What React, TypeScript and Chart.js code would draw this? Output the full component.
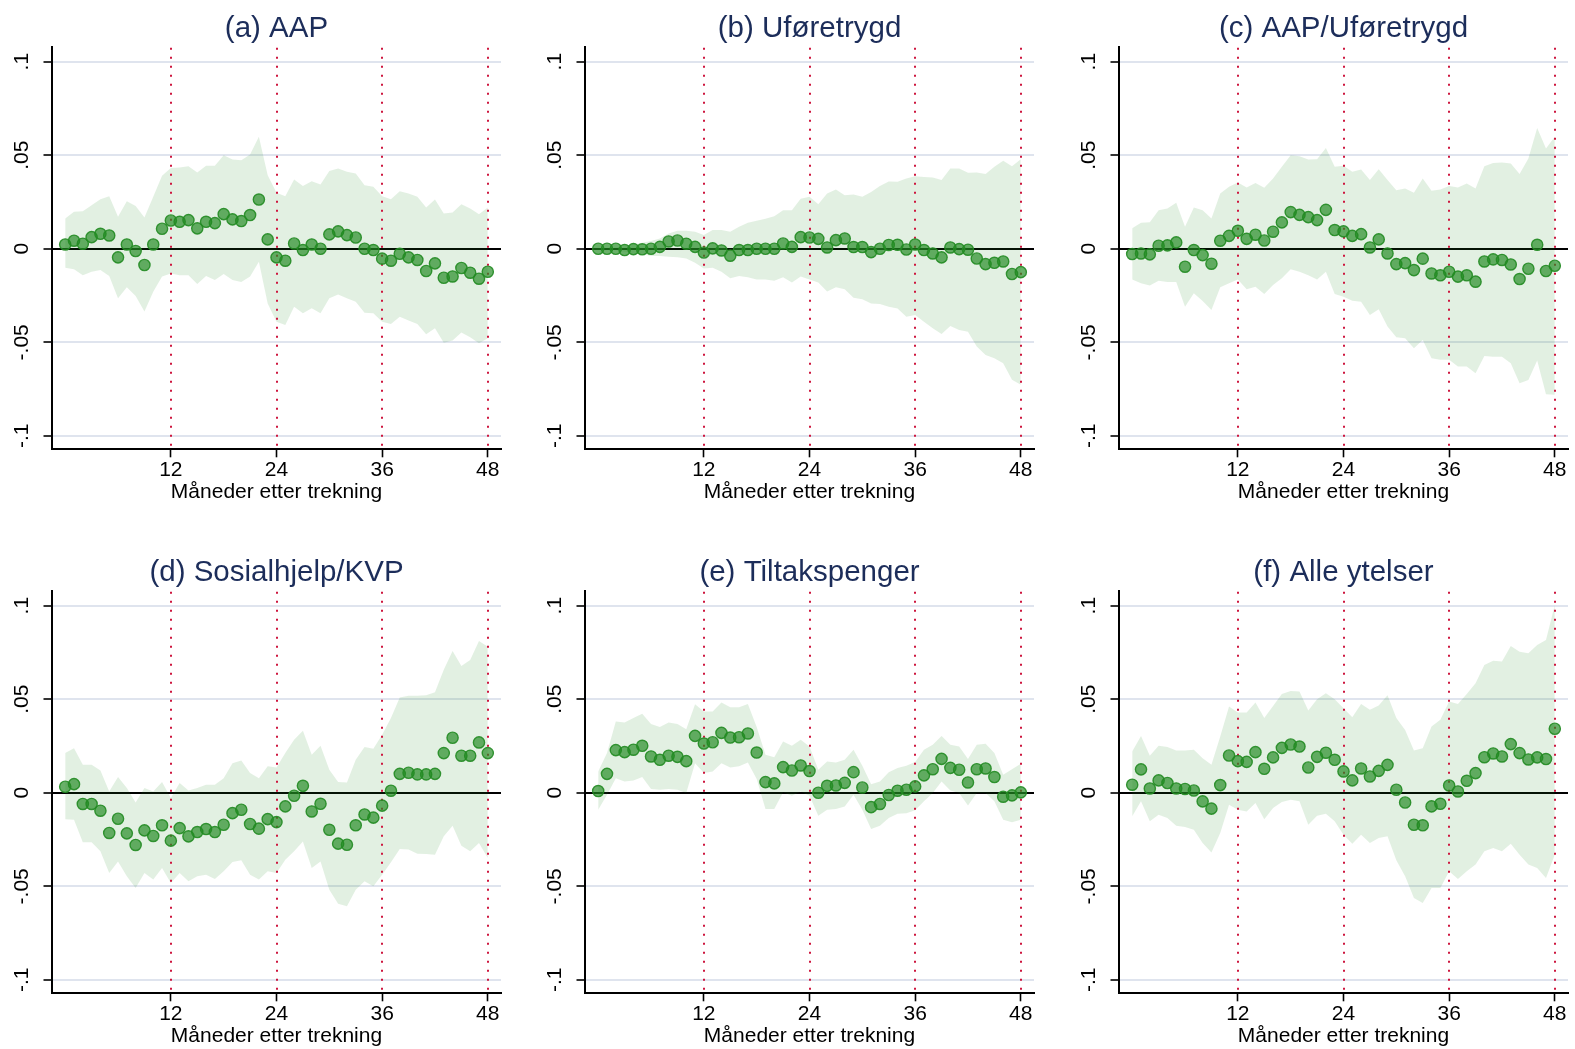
import React, { useEffect, useRef } from "react";
import { Chart, registerables } from "chart.js";

Chart.register(...registerables);

// ---------- data ----------
const months = [
  0, 1, 2, 3, 4, 5, 6, 7, 8, 9, 10, 11, 12, 13, 14, 15, 16, 17, 18, 19, 20, 21, 22, 23, 24,
  25, 26, 27, 28, 29, 30, 31, 32, 33, 34, 35, 36, 37, 38, 39, 40, 41, 42, 43, 44, 45, 46, 47, 48,
];
const xTickValues = [12, 24, 36, 48];
const xTickLabels = ["12", "24", "36", "48"];
const yTickValues = [-0.1, -0.05, 0, 0.05, 0.1];
const yTickLabels = ["-.1", "-.05", "0", ".05", ".1"];
const markerMonths = [12, 24, 36, 48];
const xAxisTitle = "Måneder etter trekning";

const panelTitles = [
  "(a) AAP",
  "(b) Uføretrygd",
  "(c) AAP/Uføretrygd",
  "(d) Sosialhjelp/KVP",
  "(e) Tiltakspenger",
  "(f) Alle ytelser",
];

// (a) AAP
const aapEst = [0.0023, 0.0043, 0.0027, 0.0062, 0.008, 0.0071, -0.0046, 0.0023, -0.0012, -0.0087, 0.0023, 0.0107, 0.0151, 0.0144, 0.0153, 0.0109, 0.0144, 0.0137, 0.0185, 0.0157, 0.0148, 0.018, 0.0263, 0.005, -0.0046, -0.0064, 0.0028, -0.0007, 0.0023, 0.0, 0.0077, 0.0093, 0.0073, 0.006, 0.0, -0.0007, -0.0053, -0.0064, -0.0027, -0.0046, -0.006, -0.0119, -0.0078, -0.0155, -0.0148, -0.0103, -0.0128, -0.016, -0.0123];
const aapHi = [0.0162, 0.0198, 0.0201, 0.0233, 0.0265, 0.0281, 0.0171, 0.0254, 0.0228, 0.0167, 0.0278, 0.039, 0.0432, 0.0434, 0.0441, 0.0407, 0.0443, 0.0443, 0.05, 0.0477, 0.0473, 0.0504, 0.0598, 0.0393, 0.0299, 0.0281, 0.037, 0.0336, 0.0361, 0.0343, 0.0416, 0.0429, 0.0411, 0.0402, 0.034, 0.0331, 0.0281, 0.0265, 0.0308, 0.0295, 0.0278, 0.0221, 0.0263, 0.0189, 0.0194, 0.0238, 0.0215, 0.0185, 0.0221];
const aapLo = [-0.0101, -0.011, -0.0142, -0.0123, -0.0114, -0.0146, -0.0265, -0.0206, -0.0253, -0.0336, -0.023, -0.0149, -0.0132, -0.0141, -0.0141, -0.0189, -0.0146, -0.0167, -0.0135, -0.0167, -0.0178, -0.0149, -0.0069, -0.0292, -0.039, -0.0407, -0.031, -0.0345, -0.0318, -0.0345, -0.0265, -0.0244, -0.0265, -0.0283, -0.0342, -0.0345, -0.039, -0.0402, -0.0363, -0.0384, -0.0402, -0.0457, -0.0425, -0.0502, -0.0491, -0.0448, -0.0473, -0.0505, -0.0479];

// (b) Uføretrygd
const uforEst = [0, 0, 0, -0.0007, -0.0002, -0.0003, 0, 0.001, 0.0039, 0.0044, 0.0027, 0.001, -0.002, 0.0002, -0.0009, -0.0037, -0.0007, -0.0007, 0, 0, 0, 0.0028, 0.001, 0.0062, 0.006, 0.0053, 0.0007, 0.0046, 0.0055, 0.0009, 0.0009, -0.0018, 0, 0.002, 0.0021, -0.0004, 0.0023, -0.0007, -0.0025, -0.0046, 0.0007, -0.0002, -0.0005, -0.0052, -0.0082, -0.0075, -0.0068, -0.0135, -0.0125];
const uforHi = [0.0002, 0.0004, 0.0007, 0.0014, 0.0023, 0.0032, 0.0041, 0.0055, 0.0082, 0.0096, 0.0096, 0.0091, 0.0073, 0.01, 0.01, 0.0091, 0.0117, 0.0139, 0.0149, 0.016, 0.0174, 0.0206, 0.0206, 0.0267, 0.0278, 0.0238, 0.0295, 0.0317, 0.0286, 0.029, 0.0278, 0.0304, 0.0336, 0.0359, 0.0358, 0.0375, 0.0388, 0.0384, 0.0381, 0.0367, 0.0429, 0.0429, 0.0406, 0.0407, 0.0399, 0.0438, 0.047, 0.0441, 0.0479];
const uforLo = [-0.0002, -0.0004, -0.0007, -0.0016, -0.0025, -0.003, -0.0039, -0.0039, -0.0043, -0.0046, -0.0052, -0.0075, -0.0105, -0.0101, -0.0123, -0.0158, -0.0146, -0.0153, -0.0164, -0.0164, -0.0171, -0.0153, -0.0181, -0.0149, -0.0164, -0.0181, -0.0228, -0.0206, -0.0217, -0.0262, -0.027, -0.0292, -0.0295, -0.031, -0.0319, -0.0363, -0.0354, -0.039, -0.0425, -0.0456, -0.0413, -0.0434, -0.0443, -0.0523, -0.0568, -0.0585, -0.0612, -0.07, -0.0727];

// (c) AAP/Uføretrygd
const aapUforEst = [-0.0028, -0.0025, -0.003, 0.0016, 0.0018, 0.0034, -0.0096, -0.0007, -0.0034, -0.008, 0.0043, 0.0069, 0.0096, 0.0053, 0.0075, 0.0044, 0.0091, 0.0141, 0.0196, 0.0181, 0.0169, 0.0153, 0.0208, 0.01, 0.0093, 0.0069, 0.0078, 0.0007, 0.005, -0.0025, -0.0082, -0.0077, -0.0114, -0.0053, -0.0132, -0.0142, -0.0123, -0.0149, -0.0142, -0.0176, -0.0068, -0.0057, -0.006, -0.0084, -0.0162, -0.0107, 0.0021, -0.0119, -0.0091];
const aapUforHi = [0.0109, 0.0139, 0.0141, 0.0206, 0.0215, 0.0246, 0.0117, 0.0221, 0.0206, 0.0162, 0.0295, 0.0331, 0.0354, 0.0327, 0.0352, 0.0326, 0.0375, 0.0438, 0.05, 0.0495, 0.0477, 0.0479, 0.0539, 0.0438, 0.0443, 0.0411, 0.0423, 0.0367, 0.0425, 0.0367, 0.0313, 0.0322, 0.0299, 0.0375, 0.031, 0.0317, 0.0336, 0.0327, 0.0349, 0.0322, 0.0441, 0.0459, 0.0461, 0.0456, 0.0399, 0.0482, 0.0646, 0.0536, 0.0598];
const aapUforLo = [-0.0164, -0.0185, -0.0197, -0.0171, -0.0178, -0.0178, -0.031, -0.0238, -0.0279, -0.0327, -0.0206, -0.0185, -0.0164, -0.0217, -0.0203, -0.0242, -0.0194, -0.0158, -0.011, -0.0123, -0.0141, -0.0164, -0.0123, -0.0242, -0.0256, -0.0278, -0.0283, -0.0354, -0.0324, -0.0416, -0.0473, -0.0479, -0.0532, -0.0488, -0.0585, -0.0594, -0.0594, -0.063, -0.063, -0.0665, -0.0573, -0.0577, -0.0577, -0.0612, -0.0719, -0.0701, -0.0598, -0.0778, -0.0781];

// (d) Sosialhjelp/KVP
const sosEst = [0.0032, 0.0046, -0.006, -0.006, -0.0096, -0.0215, -0.0139, -0.0217, -0.0279, -0.0201, -0.0231, -0.0174, -0.0256, -0.0189, -0.0233, -0.021, -0.0194, -0.021, -0.0171, -0.0109, -0.0091, -0.0167, -0.0192, -0.0141, -0.0157, -0.0073, -0.0016, 0.0037, -0.01, -0.0059, -0.0198, -0.0272, -0.0278, -0.0174, -0.0116, -0.0133, -0.0069, 0.0011, 0.0101, 0.0107, 0.0098, 0.0098, 0.0101, 0.0212, 0.0294, 0.0198, 0.0198, 0.0269, 0.0212];
const sosHi = [0.0212, 0.0238, 0.0149, 0.0149, 0.0119, 0.0007, 0.0084, 0.0025, -0.0052, 0.0025, 0.0007, 0.0057, -0.0028, 0.0052, 0.0012, 0.0025, 0.0043, 0.0043, 0.0078, 0.0158, 0.0173, 0.0105, 0.0078, 0.0141, 0.0135, 0.0212, 0.0283, 0.0331, 0.0203, 0.0251, 0.0123, 0.0057, 0.0055, 0.0176, 0.0244, 0.0235, 0.031, 0.0399, 0.0509, 0.0518, 0.0518, 0.0521, 0.0537, 0.0657, 0.0758, 0.0678, 0.071, 0.0811, 0.0781];
const sosLo = [-0.0141, -0.0144, -0.0265, -0.0265, -0.0313, -0.0429, -0.0367, -0.0447, -0.0509, -0.0429, -0.0464, -0.0402, -0.0482, -0.0429, -0.0473, -0.0447, -0.0438, -0.0461, -0.042, -0.037, -0.0361, -0.0438, -0.0464, -0.042, -0.0429, -0.0358, -0.0313, -0.026, -0.0402, -0.0367, -0.0518, -0.0594, -0.0607, -0.0518, -0.0473, -0.05, -0.0438, -0.0372, -0.0301, -0.0304, -0.0326, -0.0327, -0.0331, -0.0233, -0.0176, -0.0283, -0.0313, -0.0269, -0.0349];

// (e) Tiltakspenger
const tiltEst = [0.0009, 0.0101, 0.0228, 0.0217, 0.023, 0.0251, 0.0194, 0.0176, 0.0198, 0.0192, 0.0169, 0.0304, 0.0263, 0.027, 0.032, 0.0295, 0.0297, 0.0317, 0.0215, 0.0057, 0.005, 0.0137, 0.0119, 0.0146, 0.0116, 0.0, 0.0037, 0.0039, 0.0053, 0.011, 0.0028, -0.0077, -0.006, -0.0012, 0.0011, 0.0016, 0.0034, 0.0093, 0.0126, 0.0181, 0.0133, 0.0123, 0.0055, 0.0126, 0.013, 0.0084, -0.0021, -0.0014, 0.0002];
const tiltHi = [0.0114, 0.0212, 0.0381, 0.0375, 0.0399, 0.0422, 0.0367, 0.0351, 0.0375, 0.0368, 0.034, 0.0473, 0.0434, 0.0434, 0.0482, 0.0457, 0.0457, 0.0475, 0.0351, 0.0203, 0.019, 0.0274, 0.0251, 0.0283, 0.0247, 0.0123, 0.0167, 0.0162, 0.0176, 0.023, 0.0144, 0.0046, 0.006, 0.011, 0.0132, 0.0144, 0.0164, 0.023, 0.0256, 0.0304, 0.0256, 0.0247, 0.018, 0.0256, 0.0262, 0.0212, 0.0096, 0.0126, 0.0155];
const tiltLo = [-0.0091, -0.0011, 0.0078, 0.006, 0.0066, 0.0084, 0.002, 0.0016, 0.002, 0.0016, -0.0002, 0.0158, 0.0105, 0.0114, 0.0158, 0.0135, 0.0141, 0.0162, 0.0073, -0.0087, -0.0087, 0.0002, -0.0016, 0.0007, -0.0016, -0.0123, -0.0091, -0.0087, -0.0073, -0.0011, -0.0091, -0.0194, -0.0176, -0.0135, -0.0112, -0.0109, -0.0094, -0.0046, -0.0002, 0.006, 0.0012, -0.0002, -0.0068, -0.0002, -0.0002, -0.0046, -0.0144, -0.0158, -0.0144];

// (f) Alle ytelser
const alleEst = [0.0043, 0.0125, 0.0023, 0.0066, 0.0052, 0.0023, 0.002, 0.0012, -0.0046, -0.0085, 0.0041, 0.0199, 0.0169, 0.0165, 0.0217, 0.0128, 0.0189, 0.024, 0.0258, 0.0247, 0.0135, 0.0192, 0.0214, 0.0176, 0.0114, 0.0066, 0.013, 0.0087, 0.0117, 0.0149, 0.0016, -0.0052, -0.0171, -0.0174, -0.0073, -0.0059, 0.0039, 0.0007, 0.0064, 0.0105, 0.019, 0.021, 0.0194, 0.026, 0.0212, 0.0178, 0.0189, 0.018, 0.0342];
const alleHi = [0.0221, 0.0304, 0.0198, 0.0251, 0.0244, 0.0226, 0.0226, 0.023, 0.0185, 0.015, 0.0301, 0.0461, 0.0429, 0.0429, 0.0482, 0.0399, 0.0464, 0.0528, 0.0544, 0.0541, 0.044, 0.05, 0.0532, 0.05, 0.0452, 0.0404, 0.0475, 0.0443, 0.0466, 0.0521, 0.0399, 0.0336, 0.0226, 0.0238, 0.0354, 0.039, 0.0488, 0.0475, 0.0528, 0.0585, 0.0683, 0.0706, 0.0701, 0.0785, 0.0754, 0.0746, 0.079, 0.0817, 0.1004];
const alleLo = [-0.0126, -0.0046, -0.0153, -0.0117, -0.0135, -0.0176, -0.0183, -0.0198, -0.0269, -0.0319, -0.0215, -0.0064, -0.0091, -0.01, -0.0055, -0.0141, -0.0082, -0.005, -0.0037, -0.0046, -0.0171, -0.0123, -0.0112, -0.0153, -0.0224, -0.0272, -0.0224, -0.0269, -0.0242, -0.0233, -0.0361, -0.0447, -0.0562, -0.0589, -0.0509, -0.0509, -0.042, -0.0461, -0.042, -0.0384, -0.0313, -0.0295, -0.0313, -0.0272, -0.0331, -0.0384, -0.0402, -0.0456, -0.0331];

// ---------- styling ----------
const FONT = "'Liberation Sans', Arial, Helvetica, sans-serif";
const TITLE_COLOR = "#1c2d5a";
const GRID_COLOR = "#dfe4ee";
const RED = "rgb(205, 22, 62)";
const BAND = "rgba(34, 139, 34, 0.13)";
const DOT_FILL = "rgba(34, 139, 34, 0.68)";
const DOT_EDGE = "rgba(34, 139, 34, 0.9)";

const CANVAS_W = 508;
const CANVAS_H = 505;

const markerLinesPlugin = {
  id: "markerLines",
  afterDatasetDraw(chart: any, args: any) {
    if (args.index !== 2) return;
    const { ctx, chartArea } = chart;
    const xs = chart.scales.x;
    ctx.save();
    ctx.strokeStyle = RED;
    ctx.lineWidth = 2;
    ctx.lineCap = "butt";
    ctx.setLineDash([2, 7]);
    markerMonths.forEach((m) => {
      const px = Math.round(xs.getPixelForValue(m));
      ctx.beginPath();
      ctx.moveTo(px, chartArea.top + 1);
      ctx.lineTo(px, chartArea.bottom);
      ctx.stroke();
    });
    ctx.restore();
  },
};

type PanelProps = {
  title: string;
  est: number[];
  hi: number[];
  lo: number[];
  left: number;
  top: number;
};

function Panel({ title, est, hi, lo, left, top }: PanelProps) {
  const ref = useRef<HTMLCanvasElement | null>(null);

  useEffect(() => {
    if (!ref.current) return;
    const pts = (arr: number[]) => months.map((m, i) => ({ x: m, y: arr[i] }));
    const chart = new Chart(ref.current, {
      type: "line",
      data: {
        datasets: [
          {
            type: "scatter",
            label: "estimate",
            data: pts(est),
            order: 0,
            showLine: false,
            pointRadius: 5.6,
            pointBackgroundColor: DOT_FILL,
            pointBorderColor: DOT_EDGE,
            pointBorderWidth: 1.4,
          } as any,
          {
            label: "upper",
            data: pts(hi),
            order: 2,
            fill: "+1",
            backgroundColor: BAND,
            borderColor: "rgba(0,0,0,0)",
            borderWidth: 1,
            pointRadius: 0,
            tension: 0,
          },
          {
            label: "lower",
            data: pts(lo),
            order: 1,
            fill: false,
            borderColor: "rgba(0,0,0,0)",
            borderWidth: 1,
            pointRadius: 0,
            tension: 0,
          },
        ],
      },
      options: {
        responsive: false,
        animation: false,
        devicePixelRatio: 1,
        events: [],
        layout: { padding: { left: 0, right: 5, top: 0, bottom: 0.4 } },
        plugins: {
          legend: { display: false },
          tooltip: { enabled: false },
          title: {
            display: true,
            text: title,
            color: TITLE_COLOR,
            fullSize: false,
            font: { family: FONT, size: 29.5, weight: "normal", lineHeight: 1 },
            padding: { top: 13.75, bottom: 3.45 },
          },
        },
        scales: {
          x: {
            type: "linear",
            min: -1.5,
            max: 49.5,
            afterBuildTicks: (s: any) => {
              s.ticks = xTickValues.map((v) => ({ value: v }));
            },
            afterFit: (s: any) => {
              s.height = 55.3;
            },
            ticks: {
              autoSkip: false,
              maxRotation: 0,
              minRotation: 0,
              padding: 0,
              color: "#000",
              font: { family: FONT, size: 21 },
              callback: (_v: any, i: number) => xTickLabels[i],
            },
            grid: {
              display: true,
              drawOnChartArea: false,
              drawTicks: true,
              tickLength: 8,
              tickColor: "#000",
              tickWidth: 1.6,
            },
            border: { display: true, color: "#000", width: 2 },
            title: {
              display: true,
              text: xAxisTitle,
              color: "#000",
              font: { family: FONT, size: 21 },
              padding: { top: 0, bottom: 0 },
            },
          },
          y: {
            type: "linear",
            min: -0.1072,
            max: 0.108,
            afterBuildTicks: (s: any) => {
              s.ticks = yTickValues.map((v) => ({ value: v }));
            },
            afterFit: (s: any) => {
              s.width = 52;
            },
            ticks: {
              autoSkip: false,
              minRotation: 90,
              maxRotation: 90,
              crossAlign: "center",
              padding: 3.2,
              color: "#000",
              font: { family: FONT, size: 21 },
              callback: (_v: any, i: number) => yTickLabels[i],
            },
            grid: {
              display: true,
              drawOnChartArea: true,
              drawTicks: true,
              tickLength: 8.5,
              tickColor: "#000",
              tickWidth: 1.6,
              lineWidth: 2,
              color: (ctx: any) => (ctx.tick && ctx.tick.value === 0 ? "#000" : GRID_COLOR),
            },
            border: { display: true, color: "#000", width: 2 },
          },
        },
      } as any,
      plugins: [markerLinesPlugin],
    });
    return () => chart.destroy();
  }, [title, est, hi, lo]);

  return (
    <canvas
      ref={ref}
      width={CANVAS_W}
      height={CANVAS_H}
      style={{
        position: "absolute",
        left,
        top,
        width: CANVAS_W,
        height: CANVAS_H,
        display: "block",
      }}
    />
  );
}

const colLefts = [0, 533, 1067];
const rowTops = [0, 544];

const panelSeries = [
  { est: aapEst, hi: aapHi, lo: aapLo },
  { est: uforEst, hi: uforHi, lo: uforLo },
  { est: aapUforEst, hi: aapUforHi, lo: aapUforLo },
  { est: sosEst, hi: sosHi, lo: sosLo },
  { est: tiltEst, hi: tiltHi, lo: tiltLo },
  { est: alleEst, hi: alleHi, lo: alleLo },
];

export default function App() {
  return (
    <div
      style={{
        position: "absolute",
        left: 0,
        top: 0,
        width: 1575,
        height: 1049,
        overflow: "hidden",
        background: "#fff",
      }}
    >
      {panelSeries.map((s, i) => (
        <Panel
          key={i}
          title={panelTitles[i]}
          est={s.est}
          hi={s.hi}
          lo={s.lo}
          left={colLefts[i % 3]}
          top={rowTops[Math.floor(i / 3)]}
        />
      ))}
    </div>
  );
}
